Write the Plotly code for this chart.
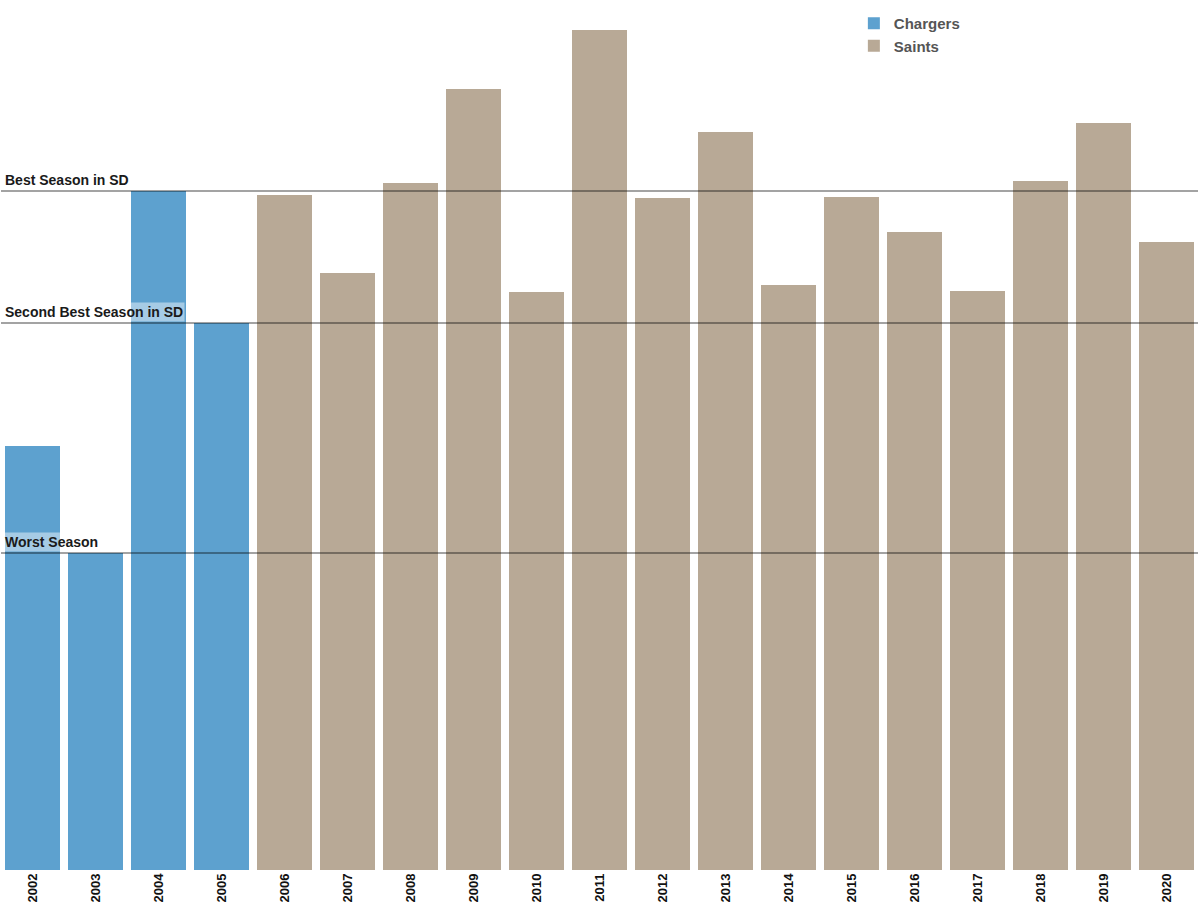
import plotly.graph_objects as go

years = [str(y) for y in range(2002, 2021)]
teams = ["Chargers"] * 4 + ["Saints"] * 15
values = [424, 317, 679, 547, 675, 597, 687, 781, 578, 840,
          672, 738, 585, 673, 638, 579, 689, 747, 628]

team_colors = {"Chargers": "#5DA1CF", "Saints": "#B8A996"}

fig = go.Figure()
for team in ["Chargers", "Saints"]:
    xs = [y for y, t in zip(years, teams) if t == team]
    ys = [v for v, t in zip(values, teams) if t == team]
    fig.add_trace(go.Bar(x=xs, y=ys, name=team, marker_color=team_colors[team],
                         marker_line_width=0, offsetgroup="a"))

sd_vals = sorted([v for v, t in zip(values, teams) if t == "Chargers"], reverse=True)
ref_lines = [("Best Season in SD", sd_vals[0]),
             ("Second Best Season in SD", sd_vals[1]),
             ("Worst Season", sd_vals[-1])]

for label, val in ref_lines:
    fig.add_shape(type="line", xref="paper", x0=0, x1=1, yref="y", y0=val, y1=val,
                  line=dict(color="rgba(0,0,0,0.36)", width=2), layer="above")
    fig.add_annotation(xref="paper", x=0.002, y=val, yref="y", text=label,
                       showarrow=False, xanchor="left", yanchor="bottom", yshift=1,
                       font=dict(family="Liberation Sans, Arial", size=14, color="#1a1a1a",
                                 weight="bold"),
                       bgcolor="rgba(255,255,255,0.45)", borderpad=1)

fig.update_layout(
    width=1200, height=915,
    margin=dict(l=1, r=2, t=0, b=45),
    plot_bgcolor="white", paper_bgcolor="white",
    barmode="group", bargap=0.127,
    font=dict(family="Liberation Sans, Arial"),
    xaxis=dict(type="category", categoryorder="array", categoryarray=years,
               tickangle=-90, showgrid=False, showline=False, ticks="",
               tickfont=dict(size=13, color="#111", weight="bold")),
    yaxis=dict(range=[0, 870], visible=False, showgrid=False),
    legend=dict(x=0.7125, y=0.992, xanchor="left", yanchor="top",
                font=dict(size=15, color="#555", weight="bold"),
                tracegroupgap=4, bgcolor="rgba(0,0,0,0)"),
)

fig.write_html("out.html", config={"displayModeBar": False},
               post_script="document.body.style.margin='0px';")
